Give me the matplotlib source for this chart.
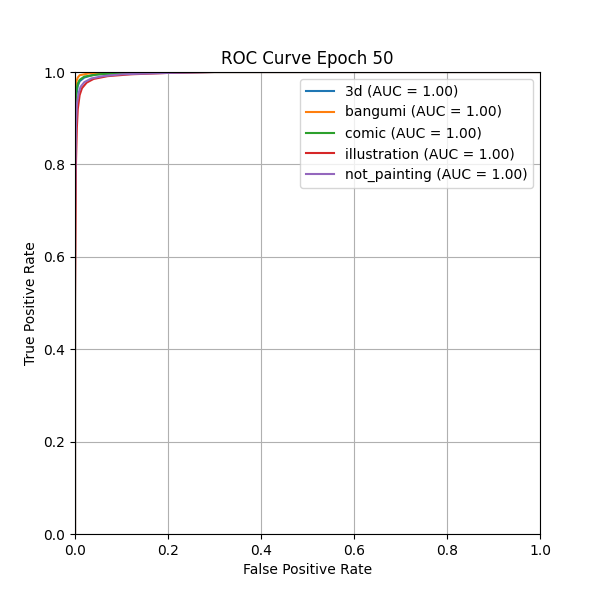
import numpy as np
import matplotlib
matplotlib.use('Agg')
import matplotlib.pyplot as plt

classes = ['3d', 'bangumi', 'comic', 'illustration', 'not_painting']
aucs = [1.00, 1.00, 1.00, 1.00, 1.00]

fpr_3d = [0.0, 0.0, 0.001, 0.003, 0.006, 0.01, 0.02, 0.04, 0.08, 0.15, 0.25, 1.0]
tpr_3d = [0.0, 0.85, 0.92, 0.95, 0.97, 0.98, 0.988, 0.994, 0.997, 0.999, 1.0, 1.0]

fpr_bangumi = [0.0, 0.0, 0.001, 0.003, 0.006, 0.01, 0.03, 0.08, 0.2, 1.0]
tpr_bangumi = [0.0, 0.9, 0.96, 0.98, 0.988, 0.993, 0.997, 0.999, 1.0, 1.0]

fpr_comic = [0.0, 0.0, 0.001, 0.003, 0.006, 0.01, 0.02, 0.05, 0.1, 0.2, 0.3, 1.0]
tpr_comic = [0.0, 0.88, 0.93, 0.96, 0.975, 0.983, 0.99, 0.995, 0.998, 0.999, 1.0, 1.0]

fpr_illustration = [0.0, 0.0, 0.002, 0.004, 0.006, 0.01, 0.015, 0.025, 0.04, 0.07, 0.12, 0.2, 0.3, 1.0]
tpr_illustration = [0.0, 0.5, 0.8, 0.88, 0.92, 0.95, 0.965, 0.977, 0.985, 0.991, 0.995, 0.998, 1.0, 1.0]

fpr_not_painting = [0.0, 0.0, 0.002, 0.004, 0.008, 0.012, 0.02, 0.035, 0.06, 0.1, 0.2, 0.3, 1.0]
tpr_not_painting = [0.0, 0.7, 0.88, 0.93, 0.955, 0.968, 0.978, 0.986, 0.991, 0.995, 0.998, 1.0, 1.0]

fprs = [fpr_3d, fpr_bangumi, fpr_comic, fpr_illustration, fpr_not_painting]
tprs = [tpr_3d, tpr_bangumi, tpr_comic, tpr_illustration, tpr_not_painting]

fig = plt.figure(figsize=(6, 6), dpi=100)
for name, auc, fpr, tpr in zip(classes, aucs, fprs, tprs):
    plt.plot(fpr, tpr, label=f'{name} (AUC = {auc:.2f})')

plt.xlim(0, 1)
plt.ylim(0, 1)
plt.xlabel('False Positive Rate')
plt.ylabel('True Positive Rate')
plt.title('ROC Curve Epoch 50')
plt.legend(loc='upper right')
plt.grid(True)
plt.savefig('out.png')
